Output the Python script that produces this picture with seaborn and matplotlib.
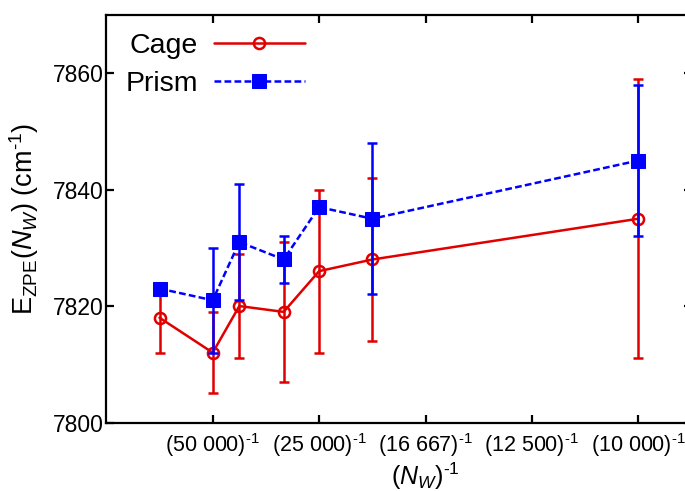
import numpy as np
import seaborn as sns
import matplotlib.pyplot as plt

# number of water molecules per walker ensemble, and ZPE estimates (cm-1)
n_w = [100000, 50000, 40000, 30000, 25000, 20000, 10000]
cage_e = [7818, 7812, 7820, 7819, 7826, 7828, 7835]
cage_err = [6, 7, 9, 12, 14, 14, 24]
prism_e = [7823, 7821, 7831, 7828, 7837, 7835, 7845]
prism_err = [1, 9, 10, 4, 1, 13, 13]

tick_n = [50000, 25000, 16667, 12500, 10000]
tick_labels = [r"(50 000)$^{\text{-}1}$", r"(25 000)$^{\text{-}1}$",
               r"(16 667)$^{\text{-}1}$", r"(12 500)$^{\text{-}1}$",
               r"(10 000)$^{\text{-}1}$"]
y_ticks = [7800, 7820, 7840, 7860]

red = "#e00000"
blue = "#0000ff"


def plot():
    sns.set_style("ticks")
    plt.rcParams["font.family"] = ["Liberation Sans", "DejaVu Sans"]
    plt.rcParams["mathtext.fontset"] = "custom"
    plt.rcParams["mathtext.rm"] = "Liberation Sans"
    plt.rcParams["mathtext.it"] = "Liberation Sans:italic"
    plt.rcParams["mathtext.bf"] = "Liberation Sans:bold"
    plt.rcParams["text.color"] = "black"
    plt.rcParams["axes.labelcolor"] = "black"

    fig = plt.figure(figsize=(6.85, 4.91), dpi=100)
    ax = fig.add_axes([0.1552, 0.1395, 0.8543, 0.83])

    x = 1.0 / np.array(n_w)
    lw = 1.8

    ax.errorbar(x, cage_e, yerr=cage_err, fmt="none", ecolor=red,
                elinewidth=lw, capsize=3.8, capthick=lw, zorder=2)
    sns.lineplot(x=x, y=cage_e, ax=ax, color=red, lw=lw, marker="o",
                 ms=8, mfc="none", mec=red, mew=lw, errorbar=None,
                 zorder=3)
    cage_line = ax.lines[-1]

    ax.errorbar(x, prism_e, yerr=prism_err, fmt="none", ecolor=blue,
                elinewidth=lw, capsize=3.8, capthick=lw, zorder=4)
    sns.lineplot(x=x, y=prism_e, ax=ax, color=blue, lw=lw, marker="s",
                 ms=9.5, mfc=blue, mec=blue, linestyle=(0, (2.7, 1.3)),
                 errorbar=None, zorder=5)
    prism_line = ax.lines[-1]

    ax.set_xlim(0, 1.1e-4)
    ax.set_ylim(7800, 7870)
    ax.set_xticks([1.0 / n for n in tick_n])
    ax.set_xticklabels(tick_labels)
    ax.set_yticks(y_ticks)

    for s in ax.spines.values():
        s.set_linewidth(1.6)
        s.set_color("black")
    ax.tick_params(direction="in", top=True, right=True, length=6,
                   width=1.6, colors="black")
    ax.tick_params(axis="x", pad=6, labelsize=15.5)
    ax.tick_params(axis="y", pad=2, labelsize=16.5)

    ax.set_xlabel(r"($N_W$)$^{\text{-}1}$", fontsize=18)
    ax.set_ylabel(r"E$_{\mathregular{ZPE}}$($N_W$) (cm$^{\text{-}1}$)",
                  fontsize=19.5)
    ax.xaxis.set_label_coords(0.545, -0.094)
    ax.xaxis.label.set_va("top")
    ax.yaxis.set_label_coords(-0.112, 0.5)

    ax.legend([cage_line, prism_line], ["Cage", "Prism"], loc="upper right",
              bbox_to_anchor=(0.3395, 0.955), frameon=False, fontsize=20.5,
              markerfirst=False, handlelength=3.2, handletextpad=0.56,
              labelspacing=0.4, borderpad=0, borderaxespad=0)

    fig.savefig("out.png", dpi=100)


def main():
    plot()


if __name__ == "__main__":
    main()
